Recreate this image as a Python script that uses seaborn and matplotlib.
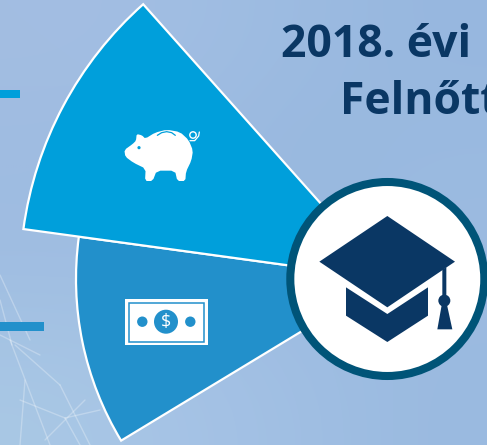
import matplotlib
matplotlib.use('Agg')
import matplotlib.pyplot as plt
from matplotlib.patches import Wedge, Circle, Polygon, Rectangle
import numpy as np
import seaborn as sns

# wedge data
wedge_names = ['bevetel', 'megtakaritas']
wedge_span_deg = [39.0, 40.5]
wedge_radius = [312, 368]
wedge_colors = ['#2290CB', '#009FDB']

title_lines = ['2018. évi', 'Felnőtt']

# rough background colours (rows top to bottom)
bg_rows = [['#A3BEE2', '#A1BEE3', '#9CBBE1', '#97B7DF'],
           ['#9EBBE1', '#9CBBE1', '#97B7DE', '#9BBBE1'],
           ['#A0BEE2', '#A0BEE3', '#9CBBE1', '#9CBBE1'],
           ['#A9C8E5', '#A6C3E6', '#A0BFE3', '#9ABAE0']]

sns.set_theme(style='white')
plt.rcParams['font.family'] = ['Open Sans', 'DejaVu Sans']

fig = plt.figure(figsize=(4.87, 4.45), dpi=100)
ax = fig.add_axes([0, 0, 1, 1])

bg = np.array([[matplotlib.colors.to_rgb(c) for c in row] for row in bg_rows])
ax.imshow(bg, extent=(0, 487, 445, 0), aspect='auto', interpolation='bicubic', zorder=0)

# faint network lines bottom left
for x0, y0, x1, y1 in [(0, 275, 30, 340), (10, 340, 50, 445), (15, 345, 60, 385), (60, 385, 90, 445),
                       (20, 400, 65, 418), (65, 418, 80, 445), (65, 418, 100, 410), (0, 335, 40, 355),
                       (25, 380, 20, 445), (0, 300, 12, 345), (45, 440, 85, 400)]:
    ax.plot([x0, x1], [y0, y1], color='white', alpha=0.28, lw=1.0, zorder=1)

cx, cy = 388, 279

# y axis is flipped, so angles run clockwise from +x; wedges stack up from the lower one
a0 = 148.8
for name, span, r, col in zip(wedge_names, wedge_span_deg, wedge_radius, wedge_colors):
    ax.add_patch(Wedge((cx, cy), r, a0, a0 + span, facecolor=col, edgecolor='white', lw=1.6, zorder=2))
    a0 += span

# small bars on the left edge
ax.add_patch(Rectangle((0, 90), 20, 8, color='#009FDB', lw=0, zorder=2))
ax.add_patch(Rectangle((0, 322), 44, 9, color='#2290CB', lw=0, zorder=2))


def z3(pts):
    # coords taken from the 3x crop of the icon
    return [(100 + x / 3, 110 + y / 3) for x, y in pts]


def smooth(pts, n=1):
    p = np.array(pts, dtype=float)
    for _ in range(n):
        q = np.roll(p, -1, axis=0)
        p = np.column_stack([0.8 * p + 0.2 * q, 0.2 * p + 0.8 * q]).reshape(-1, 2)
    return p


# piggy bank
pig = z3([(73, 120), (98, 102), (108, 92), (110, 72), (126, 76), (136, 86), (165, 68), (200, 59), (240, 66),
          (266, 90), (279, 122), (274, 152), (258, 185), (256, 213), (232, 213), (225, 182), (170, 182),
          (158, 213), (135, 213), (137, 176), (100, 158), (76, 140)])
ax.add_patch(Polygon(smooth(pig), facecolor='white', lw=0, zorder=3))
ax.add_patch(Circle(z3([(117, 113)])[0], 1.6, color='#009FDB', lw=0, zorder=4))
ax.plot(*zip(*z3([(172, 76), (185, 68), (200, 65), (215, 68), (226, 76)])), color='#009FDB', lw=0.9, zorder=4)
ax.add_patch(Circle(z3([(279, 75)])[0], 3.2, fill=False, ec='white', lw=1.0, zorder=3))
ax.plot(*zip(*z3([(270, 92), (284, 92), (296, 78), (298, 66)])), color='white', lw=0.9, zorder=3)

# banknote
ax.add_patch(Rectangle((125, 299), 82.5, 46, color='white', lw=0, zorder=3))
ax.add_patch(Rectangle((128.5, 302.5), 75.5, 39, fill=False, ec='#2290CB', lw=1.1, zorder=4))
ax.add_patch(Circle((166, 321.7), 12, color='#2290CB', lw=0, zorder=4))
ax.add_patch(Circle((142.3, 321.7), 5.2, color='#2290CB', lw=0, zorder=4))
ax.add_patch(Circle((190.3, 321.7), 5.2, color='#2290CB', lw=0, zorder=4))
ax.text(166, 321.7, '$', color='white', fontsize=13, ha='center', va='center', zorder=5)

# circle with graduation cap
ax.add_patch(Circle((387.3, 279), 97, facecolor='white', edgecolor='#005478', lw=5.8, zorder=5))


def cap_pts(pts):
    return [(280 + x / 3, 170 + y / 3) for x, y in pts]


navy = '#0A3764'
ax.add_patch(Polygon(cap_pts([(322, 138), (525, 275), (322, 412), (118, 275)]), color=navy, lw=0, zorder=6))
ax.add_patch(Polygon(cap_pts([(198, 352), (322, 432), (444, 352), (444, 437), (322, 516), (198, 437)]),
                     color=navy, lw=0, zorder=6))
ax.add_patch(Polygon(cap_pts([(487, 298), (499, 292), (499, 400), (487, 400)]), color=navy, lw=0, zorder=6))
ax.add_patch(Circle(cap_pts([(493, 392)])[0], 6, color=navy, lw=0, zorder=6))
ax.add_patch(Polygon(cap_pts([(486, 400), (500, 400), (517, 478), (472, 478)]), color=navy, lw=0, zorder=6))

# title, runs off the right edge like the original
ax.text(281, 57, title_lines[0], color=navy, fontsize=32, fontweight='bold', ha='left', va='baseline', zorder=6)
ax.text(340, 114, title_lines[1], color=navy, fontsize=32, fontweight='bold', ha='left', va='baseline', zorder=6)

ax.set_xlim(0, 487)
ax.set_ylim(445, 0)
ax.axis('off')
fig.savefig('out.png', dpi=100)
